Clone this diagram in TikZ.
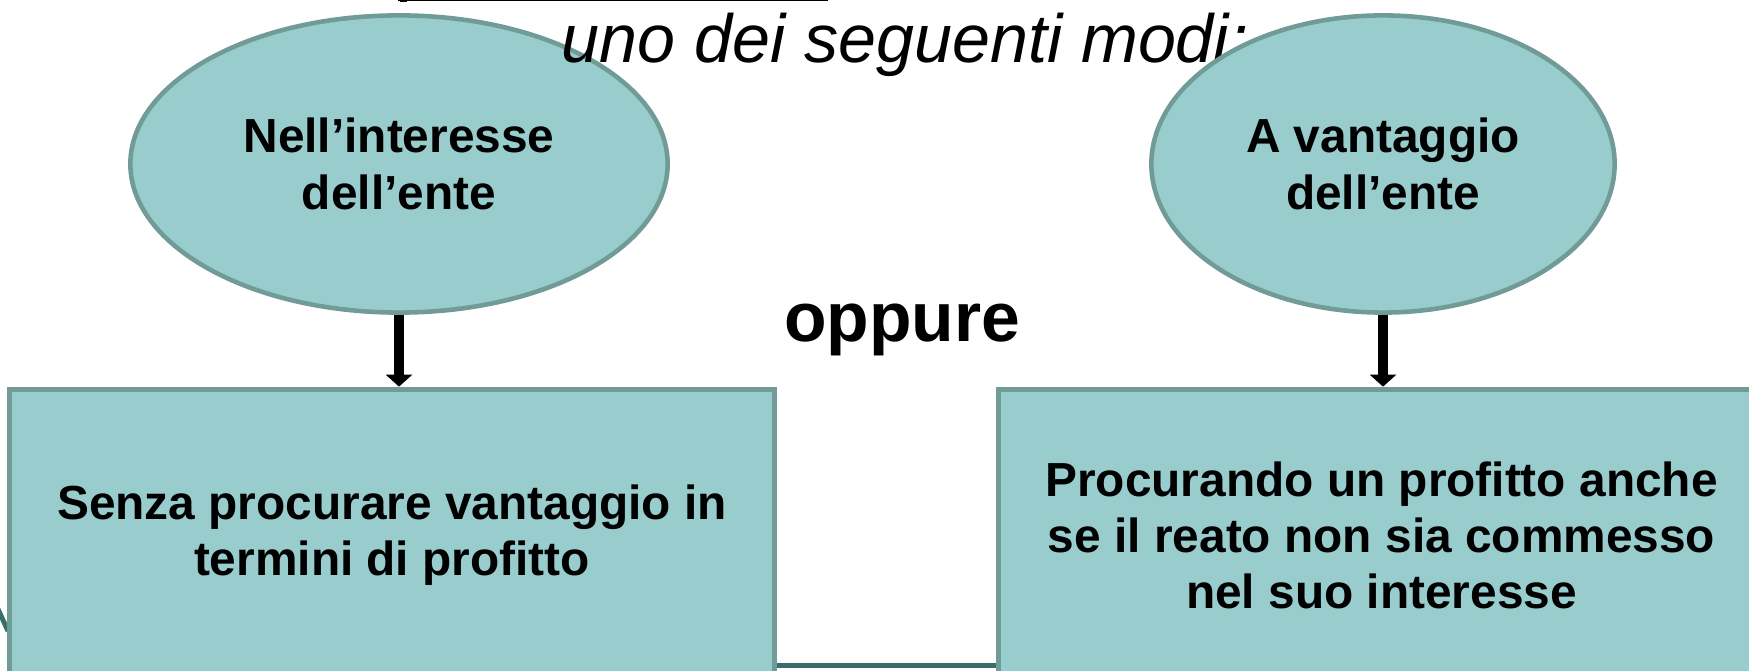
\documentclass[tikz,border=0pt]{standalone}
\usepackage{fontspec}
\setmainfont{Liberation Sans}
\usetikzlibrary{positioning,arrows.meta,shapes.geometric}
\definecolor{tealFill}{RGB}{153,204,204}
\definecolor{tealEdge}{RGB}{112,155,151}
\definecolor{tealDark}{RGB}{58,110,106}
\begin{document}
\begin{tikzpicture} [
      x=0.01cm, y=-0.01cm,
      goal/.style={draw=tealEdge, fill=tealFill, ellipse, line width=1.3pt, inner sep=0pt, minimum height=2.97cm, align=center, font=\bfseries\fontsize{13.6}{16}\selectfont},
      result/.style={draw=tealEdge, fill=tealFill, rectangle, line width=1.4pt, minimum width=7.65cm, minimum height=2.92cm, align=center, font=\bfseries\fontsize{13.6}{16}\selectfont},
      link/.style={draw=tealDark, line width=1.4pt},
      flow/.style={-{Triangle[width=0.26cm, length=0.12cm]}, line width=2.8pt}
   ]
    \useasboundingbox (0,0) rectangle (1749,671);
    \clip (0,0) rectangle (1749,671);

    % remains of the heading, cut at the top
    \draw[line width=0.6pt] (398,0) -- (828,0);
    \fill (400,0) rectangle (407,2.5);

    \node[goal, minimum width=5.37cm] (ndInteresse) at (399,164) {Nell’interesse\\dell’ente};
    \node[anchor=base west, inner sep=0pt, font=\itshape\fontsize{19.4}{23}\selectfont] (ndModi) at (561,63) {uno dei seguenti modi:};
    \node[goal, minimum width=4.63cm] (ndVantaggio) at (1383,164) {A vantaggio\\dell’ente};

    \node[anchor=base, inner sep=0pt, font=\bfseries\fontsize{19.8}{23}\selectfont] (ndOppure) at (902,342) {oppure};

    \draw[link] (-8,596) -- (8,631);
    \coordinate (bottomLine) at (0,665.5);

    \node[result, below of=ndInteresse, node distance=3.71cm, xshift=-0.07cm] (ndSenza) {
      Senza procurare vantaggio in\\termini di profitto
    };
    \node[result, below of=ndVantaggio, node distance=3.71cm, xshift=-0.015cm] (ndProcurando) {
      Procurando un profitto anche\\se il reato non sia commesso\\nel suo interesse
    };

    \draw[link] (ndSenza.east |- bottomLine) -- (ndProcurando.west |- bottomLine);
    \draw[flow] (ndInteresse.south) -- (ndInteresse.south |- ndSenza.north);
    \draw[flow] (ndVantaggio.south) -- (ndVantaggio.south |- ndProcurando.north);

  \end{tikzpicture}
\end{document}
